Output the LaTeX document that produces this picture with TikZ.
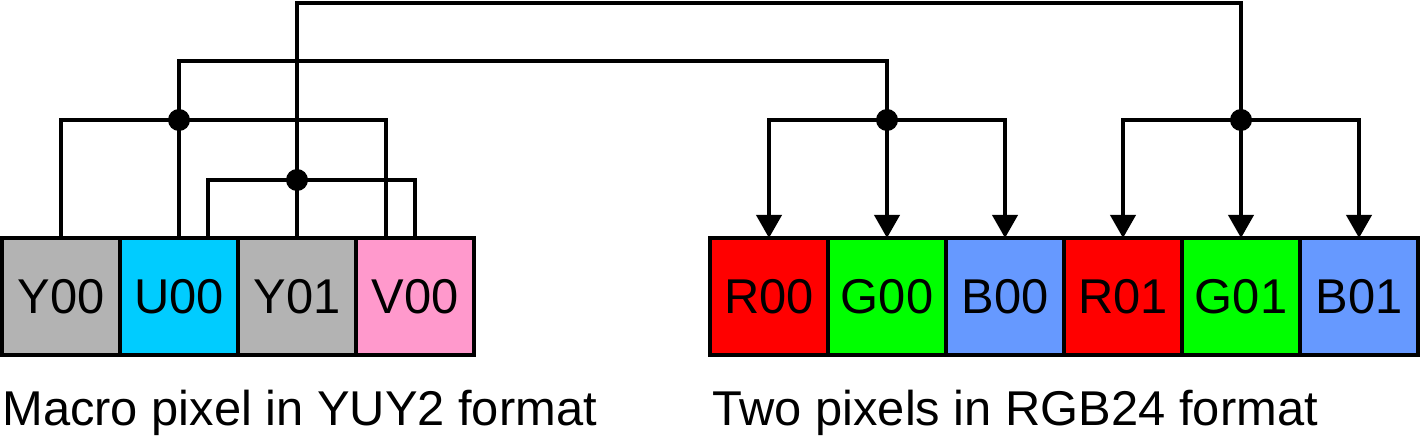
\documentclass[tikz,border=0pt]{standalone}
\usepackage{fontspec}
\setmainfont{Liberation Sans}
\usepackage{tikz}
\usetikzlibrary{arrows.meta, positioning, calc}
\definecolor{lumagray}{RGB}{179,179,179}
\definecolor{chromau}{RGB}{0,204,255}
\definecolor{chromav}{RGB}{255,153,204}
\definecolor{chanr}{RGB}{255,0,0}
\definecolor{chang}{RGB}{0,255,0}
\definecolor{chanb}{RGB}{102,153,255}
\tikzset{%
	cell/.style={draw, rectangle, line width=2pt, outer sep=0pt, inner sep=0pt,%
		minimum width=2.36cm, minimum height=2.34cm, font=\fontsize{27.8}{33}\selectfont},
	wire/.style={line width=2.2pt},
	feed/.style={line width=2.2pt, -{Triangle[width=0.5cm, length=0.46cm]}},
	junction/.style={circle, fill=black, minimum size=0.44cm, inner sep=0pt},
	caption/.style={font=\fontsize{27.8}{33}\selectfont, inner sep=0pt}
}
\begin{document}
\begin{tikzpicture}
	\useasboundingbox (0,0) rectangle (28.44,-8.78);
	% YUY2 macro pixel
	\node[cell, fill=lumagray] (y00) at (1.22,-5.93) {Y00};
	\node[cell, fill=chromau, right=0pt of y00] (u00) {U00};
	\node[cell, fill=lumagray, right=0pt of u00] (y01) {Y01};
	\node[cell, fill=chromav, right=0pt of y01] (v00) {V00};
	% RGB24 pixels
	\node[cell, fill=chanr] (r00) at (15.38,-5.93) {R00};
	\node[cell, fill=chang, right=0pt of r00] (g00) {G00};
	\node[cell, fill=chanb, right=0pt of g00] (b00) {B00};
	\node[cell, fill=chanr, right=0pt of b00] (r01) {R01};
	\node[cell, fill=chang, right=0pt of r01] (g01) {G01};
	\node[cell, fill=chanb, right=0pt of g01] (b01) {B01};

	\node[caption, anchor=base west] (capyuv) at ($(y00.south west)+(0,-1.4)$) {Macro pixel in YUY2 format};
	\node[caption, anchor=base west] (caprgb) at ($(r00.south west)+(0.04,-1.4)$) {Two pixels in RGB24 format};

	\coordinate[above=2.36 of u00.north] (mix0);
	\coordinate[above=1.16 of y01.north] (mix1);
	\coordinate[above=3.54 of u00.north] (bendu);
	\coordinate[above=4.70 of y01.north] (bendy);
	\coordinate[above=2.36 of g00.north] (px0);
	\coordinate[above=2.36 of g01.north] (px1);
	\coordinate (vleft) at ($(v00.north west)+(0.6,0)$);
	\coordinate (uright) at ($(u00.north east)+(-0.6,0)$);

	\draw[wire] (y00.north) |- (mix0) -| (vleft);
	\draw[wire] (u00.north) -- (bendu) -| (px0);
	\draw[wire] (uright) |- (mix1) -| (v00.north);
	\draw[wire] (y01.north) -- (bendy) -| (px1);

	\draw[feed] (px0) -| (r00.north);
	\draw[feed] (px0) -- (g00.north);
	\draw[feed] (px0) -| (b00.north);
	\draw[feed] (px1) -| (r01.north);
	\draw[feed] (px1) -- (g01.north);
	\draw[feed] (px1) -| (b01.north);

	\node[junction] at (mix0) {};
	\node[junction] at (mix1) {};
	\node[junction] at (px0) {};
	\node[junction] at (px1) {};
\end{tikzpicture}
\end{document}
